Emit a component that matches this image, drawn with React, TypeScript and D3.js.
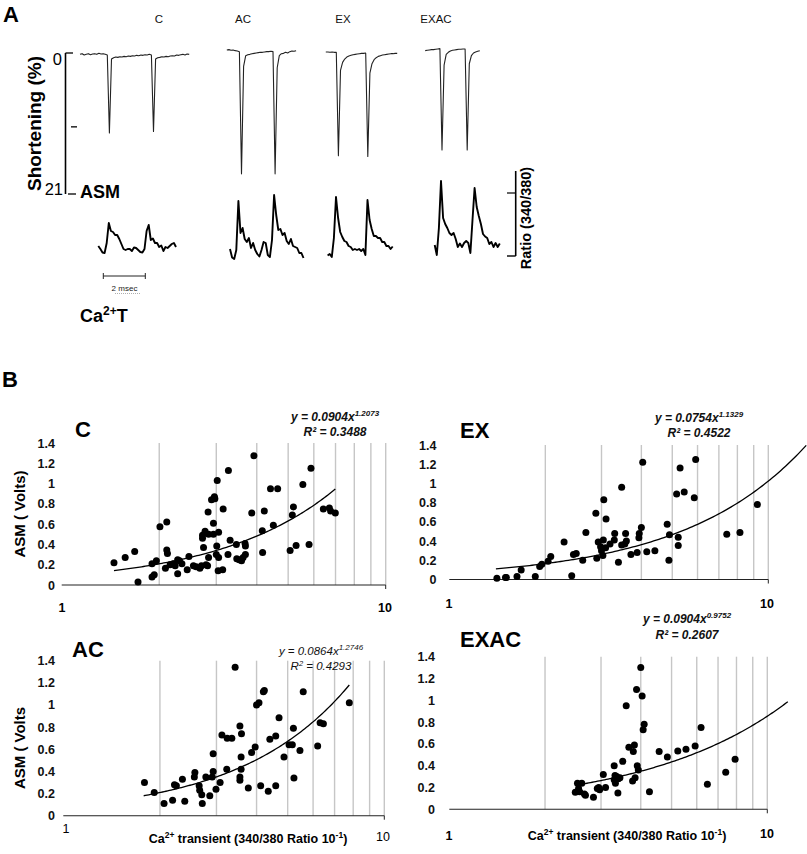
import React from 'react';
import * as d3 from 'd3';

const FONT = "'Liberation Sans', Arial, Helvetica, sans-serif";

// ---------- Panel A : representative traces (sampled every 0.1 ms) ----------
const SAMPLE_MS = 0.1;
const groupLabels = ['C', 'AC', 'EX', 'EXAC'];
// cell shortening (%)
const shortC = [0.2,0.1,0.3,0.2,0.1,0.25,0.15,0.1,0.2,0.05,0.15,0.1,0.2,0.3,11.9,0.9,0.7,0.6,0.65,0.55,0.6,0.5,0.55,0.45,0.5,0.4,0.45,0.35,0.4,0.3,0.35,0.25,0.3,0.2,0.3,11.7,0.9,0.7,0.65,0.55,0.6,0.5,0.55,0.45,0.4,0.45,0.3,0.35,0.25,0.2,0.3,0.15,0.2];
const shortAC = [-0.45,-0.5,-0.4,-0.45,-0.35,-0.3,-0.2,18.0,2.0,0.4,0.25,0.2,0.1,0.05,0.0,-0.05,-0.1,-0.1,-0.15,-0.2,-0.2,-0.25,-0.2,18.0,2.2,0.4,0.1,0.05,-0.1,0.0,-0.2,-0.3,-0.25,-0.35];
const shortEX = [-0.15,-0.15,-0.1,-0.15,-0.1,-0.1,15.3,2.6,1.4,0.9,0.6,0.45,0.35,0.25,0.2,0.15,0.1,0.05,0.05,0.0,15.4,3.0,1.6,1.0,0.7,0.5,0.4,0.3,0.25,0.2,0.15,0.1,0.1,0.05,0.05];
const shortEXAC = [-0.35,-0.4,-0.45,-0.5,-0.5,-0.55,-0.6,-0.65,14.45,1.8,0.2,-0.1,-0.3,-0.4,-0.45,-0.5,-0.55,-0.55,-0.6,-0.6,14.45,1.6,0.4,0.0,-0.15,-0.25,-0.35];
// Ca2+ transient (fura-2 ratio, arbitrary units)
const caC = [10,7,3.5,3,13,33,25,24,21,21,17,12,7,6,7,7,5,8.5,8,6,4,3.5,7,25,31,16,17.5,13,13,9,10.5,5,9,8,10,12,13,9];
const caAC = [7,-1.5,-3,6,55,23,28,17,14,18,8,13,6,2,-0.5,6,14,13,1,-1,16,61,41,26,27,21,23,15,12,17,10,9,8,3,3,-2];
const caEX = [0.5,2,-1,18,59,38,24,19,15,14,10,9,6,7,6,7,5,7,1,56,36,27,20,20,18,18,14,14,10,10,7,9.5];
const caEXAC = [11,1,28,75,38,32,28,23,21,23,17,9,12.5,9,13,15,13,3,36,68,49,40,32,22,19.5,18,12,14,9,13,9,12.5];

// ---------- Panel B : ASM vs Ca2+ transient ----------
const cCa = [1.45,1.57,1.68,1.72,1.90,1.93,1.90,1.96,2.01,2.11,2.11,2.12,2.09,2.16,2.21,2.28,2.28,2.35,2.31,2.44,2.47,2.55,2.60,2.67,2.70,2.79,2.74,2.72,2.72,2.77,2.84,2.83,2.90,2.96,2.97,2.94,2.94,3.05,3.01,3.00,3.05,2.84,3.04,3.14,3.02,3.15,3.27,3.31,3.26,3.47,3.46,3.53,3.59,3.63,3.69,3.69,3.68,3.86,3.92,4.17,4.16,4.22,4.41,4.64,4.50,5.07,5.29,5.15,5.19,5.55,5.80,5.88,6.42,6.70,6.76,6.99,2.82,2.24];
const cAsm = [0.22,0.27,0.33,0.03,0.08,0.10,0.21,0.24,0.575,0.62,0.345,0.31,0.165,0.20,0.21,0.25,0.11,0.21,0.24,0.15,0.28,0.19,0.18,0.165,0.19,0.20,0.37,0.46,0.49,0.53,0.50,0.72,0.84,0.87,0.85,0.61,0.50,0.52,0.385,0.30,0.27,0.27,0.14,0.15,1.03,0.75,1.13,0.44,0.30,0.26,0.40,0.25,0.24,0.27,0.30,0.385,0.41,0.71,1.275,0.32,0.535,0.73,0.95,0.95,0.59,0.34,0.39,0.69,0.77,0.99,0.40,1.15,0.75,0.76,0.73,0.71,0.19,0.19];

const exCa = [1.41,1.50,1.51,1.63,1.68,1.86,1.92,1.95,2.04,2.08,2.29,2.42,2.45,2.50,2.62,2.68,2.88,2.90,2.93,2.98,3.00,3.03,3.04,3.05,3.10,3.09,3.19,3.29,3.30,3.39,3.47,3.47,3.57,3.59,3.55,3.71,3.88,3.93,3.94,4.00,4.04,4.16,4.41,4.82,4.88,4.90,5.22,5.22,5.16,5.29,5.45,5.86,5.92,7.41,8.15,9.24];
const exAsm = [0.014,0.02,0.02,0.03,0.10,0.03,0.136,0.16,0.19,0.24,0.39,0.04,0.26,0.27,0.20,0.49,0.69,0.22,0.39,0.34,0.30,0.25,0.41,0.83,0.63,0.33,0.37,0.41,0.48,0.18,0.36,0.96,0.48,0.40,0.37,0.26,0.28,0.435,0.48,0.54,1.22,0.29,0.30,0.575,0.20,0.467,0.44,0.355,0.89,1.16,0.91,0.85,1.25,0.47,0.49,0.78];

const acCa = [1.79,1.92,2.06,2.19,2.22,2.25,2.35,2.39,2.56,2.57,2.65,2.66,2.70,2.71,2.78,2.86,2.91,2.93,2.93,2.99,3.08,3.12,3.23,3.24,3.35,3.43,3.55,3.59,3.58,3.58,3.55,3.55,3.77,3.86,3.96,4.00,4.07,4.12,4.20,4.23,4.35,4.40,4.59,4.59,4.70,4.87,5.05,5.17,5.23,5.21,5.46,5.59,6.20,6.31,6.46,7.78];
const acAsm = [0.30,0.21,0.11,0.14,0.28,0.27,0.33,0.13,0.35,0.39,0.27,0.23,0.19,0.11,0.35,0.18,0.35,0.40,0.56,0.24,0.30,0.73,0.42,0.70,0.70,1.34,0.81,0.74,0.53,0.42,0.35,0.32,0.25,0.57,0.62,1.00,1.02,0.27,1.12,1.13,0.22,0.69,0.27,0.72,0.885,0.53,0.64,0.64,0.34,0.79,0.59,1.12,0.63,0.84,0.83,1.02];

const exacCa = [2.49,2.53,2.55,2.61,2.57,2.66,2.68,2.84,2.92,2.97,2.95,3.05,3.10,3.30,3.32,3.30,3.33,3.39,3.40,3.44,3.36,3.51,3.60,3.67,3.77,3.82,3.79,3.84,3.88,3.90,3.93,4.00,4.04,4.07,4.10,4.26,4.57,4.85,5.23,5.55,5.93,6.19,6.48,7.40,7.92];
const exacAsm = [0.156,0.24,0.19,0.24,0.16,0.14,0.13,0.11,0.19,0.18,0.20,0.32,0.20,0.40,0.31,0.27,0.24,0.15,0.28,0.29,0.30,0.44,0.95,0.57,0.26,0.59,0.53,0.29,1.10,0.40,0.36,1.30,1.04,0.73,0.78,0.16,0.53,0.48,0.535,0.55,0.58,0.75,0.23,0.34,0.46];

// power-law trendlines y = a x^b
const fitA = [0.0904, 0.0754, 0.0864, 0.0904];
const fitB = [1.2073, 1.1329, 1.2746, 0.9752];
const fitR2 = ['0.3488', '0.4522', '0.4293', '0.2607'];
const fitRange = [[1.45, 6.99], [1.40, 13.15], [1.78, 7.78], [2.51, 11.6]];
const yTicks = [0, 0.2, 0.4, 0.6, 0.8, 1, 1.2, 1.4];
const gridValues = [2, 3, 4, 5, 6, 7, 8, 9, 10];

// ---------- layout ----------
const shortY = d3.scaleLinear().domain([0, 21]).range([53, 194]);
const ratioY = d3.scaleLinear().domain([0, 85]).range([256, 171]);
const msToPx = 21;

const traceLayout = [
  { sStart: 80, cStart: 98.3, labelX: 159 },
  { sStart: 226.8, cStart: 230, labelX: 243 },
  { sStart: 325.8, cStart: 327.6, labelX: 343 },
  { sStart: 425.2, cStart: 434.7, labelX: 436 },
];
const shortSeries = [shortC, shortAC, shortEX, shortEXAC];
const caSeries = [caC, caAC, caEX, caEXAC];

type PanelCfg = {
  name: string; xs: number[]; ys: number[]; gi: number;
  x0: number; x1: number; y0: number; yTop: number;
  labelX: number; nameX: number; nameY: number;
  eqX: number; eqY: number; rY: number; eqBold: boolean;
  tick1: [number, number]; tick10: [number, number]; tickBold: boolean;
  yTitle?: string; yTitleY?: number; xTitle?: boolean; xTitleX?: number; xTitleY?: number;
};

const panels: PanelCfg[] = [
  { name: 'C', xs: cCa, ys: cAsm, gi: 0, x0: 61.7, x1: 385.7, y0: 585, yTop: 443, labelX: 55, nameX: 75, nameY: 437,
    eqX: 335, eqY: 421, rY: 436, eqBold: true, tick1: [62, 612], tick10: [385, 612], tickBold: true,
    yTitle: 'ASM ( Volts)', yTitleY: 514 },
  { name: 'EX', xs: exCa, ys: exAsm, gi: 1, x0: 449.3, x1: 768.3, y0: 579.5, yTop: 445, labelX: 436.5, nameX: 460, nameY: 438,
    eqX: 699, eqY: 421.5, rY: 436.5, eqBold: true, tick1: [449, 608], tick10: [767, 608], tickBold: true },
  { name: 'AC', xs: acCa, ys: acAsm, gi: 2, x0: 63.3, x1: 384.3, y0: 815.7, yTop: 660.7, labelX: 55, nameX: 72, nameY: 657,
    eqX: 321, eqY: 655, rY: 670, eqBold: false, tick1: [66, 833], tick10: [383, 841], tickBold: false,
    yTitle: 'ASM ( Volts', yTitleY: 748, xTitle: true, xTitleX: 248, xTitleY: 843 },
  { name: 'EXAC', xs: exacCa, ys: exacAsm, gi: 3, x0: 449.3, x1: 767.3, y0: 809.3, yTop: 656.7, labelX: 435, nameX: 460, nameY: 647,
    eqX: 687, eqY: 623, rY: 639, eqBold: true, tick1: [449, 840], tick10: [767, 838], tickBold: true,
    xTitle: true, xTitleX: 627, xTitleY: 840 },
];

function Scatter({ p }: { p: PanelCfg }) {
  const x = d3.scaleLog().domain([1, 10]).range([p.x0, p.x1]);
  const y = d3.scaleLinear().domain([0, 1.4]).range([p.y0, p.yTop]);
  const a = fitA[p.gi], b = fitB[p.gi];
  const [fMin, fMax] = fitRange[p.gi];
  const fitXs = d3.range(0, 121).map(i => fMin * Math.pow(fMax / fMin, i / 120));
  const line = d3.line<number>().x(d => x(d)).y(d => y(a * Math.pow(d, b)));
  const eqWeight = p.eqBold ? 'bold' : 'normal';
  const eqSize = p.eqBold ? 12 : 11.5;
  return (
    <g fontFamily={FONT}>
      {gridValues.map(g => (
        <line key={g} x1={x(g)} x2={x(g)} y1={y(1.4)} y2={y(0)} stroke="#c6c6c6" strokeWidth={1.4} />
      ))}
      <line x1={x(1)} x2={x(10)} y1={y(0)} y2={y(0)} stroke="#222" strokeWidth={1.1} />
      <line x1={x(10)} x2={x(10)} y1={y(0)} y2={y(0) + 4} stroke="#222" strokeWidth={1} />
      {yTicks.map(t => (
        <text key={t} x={p.labelX} y={y(t)} dy="0.36em" textAnchor="end" fontSize={12.5} fontWeight="bold" fill="#111">
          {String(+t.toFixed(1))}
        </text>
      ))}
      {p.xs.map((v, i) => (
        <circle key={i} cx={x(v)} cy={y(p.ys[i])} r={3.5} fill="#000" />
      ))}
      <path d={line(fitXs) || ''} fill="none" stroke="#000" strokeWidth={1.3} />
      <text x={p.nameX} y={p.nameY} fontSize={22} fontWeight="bold" fill="#000">{p.name}</text>
      <text x={p.eqX} y={p.eqY} textAnchor="middle" fontSize={eqSize} fontStyle="italic" fontWeight={eqWeight} fill="#111">
        <tspan>{`y = ${a.toFixed(4)}x`}</tspan>
        <tspan dy={-5} fontSize={8}>{b.toFixed(4)}</tspan>
      </text>
      {p.eqBold ? (
        <text x={p.eqX} y={p.rY} textAnchor="middle" fontSize={12} fontStyle="italic" fontWeight="bold" fill="#111">
          {`R² = ${fitR2[p.gi]}`}
        </text>
      ) : (
        <text x={p.eqX} y={p.rY} textAnchor="middle" fontSize={eqSize} fontStyle="italic" fill="#111">
          <tspan>R</tspan><tspan dy={-4} fontSize={7.5}>2</tspan><tspan dy={4}>{` = ${fitR2[p.gi]}`}</tspan>
        </text>
      )}
      <text x={p.tick1[0]} y={p.tick1[1]} textAnchor="middle" fontSize={12.5} fontWeight={p.tickBold ? 'bold' : 'normal'}>1</text>
      <text x={p.tick10[0]} y={p.tick10[1]} textAnchor="middle" fontSize={12.5} fontWeight={p.tickBold ? 'bold' : 'normal'}>10</text>
      {p.yTitle && (
        <text transform={`translate(25,${p.yTitleY}) rotate(-90)`} textAnchor="middle" fontSize={15} fontWeight="bold">{p.yTitle}</text>
      )}
      {p.xTitle && (
        <text x={p.xTitleX} y={p.xTitleY} textAnchor="middle" fontSize={12.5} fontWeight="bold">
          <tspan>Ca</tspan><tspan dy={-5} fontSize={8.5}>2+</tspan>
          <tspan dy={5}> transient (340/380 Ratio 10</tspan><tspan dy={-5} fontSize={8.5}>-1</tspan><tspan dy={5}>)</tspan>
        </text>
      )}
    </g>
  );
}

function Traces() {
  return (
    <g fontFamily={FONT}>
      {traceLayout.map((L, gi) => {
        const sx = d3.scaleLinear().domain([0, 1]).range([L.sStart, L.sStart + msToPx]);
        const cx = d3.scaleLinear().domain([0, 1]).range([L.cStart, L.cStart + msToPx]);
        const sLine = d3.line<number>().x((_, i) => sx(i * SAMPLE_MS)).y(d => shortY(d));
        const cLine = d3.line<number>().x((_, i) => cx(i * SAMPLE_MS)).y(d => ratioY(d));
        return (
          <g key={gi}>
            <text x={L.labelX} y={23} textAnchor="middle" fontSize={11.5} fill="#111">{groupLabels[gi]}</text>
            <path d={sLine(shortSeries[gi]) || ''} fill="none" stroke="#222" strokeWidth={1.1} strokeLinejoin="round" />
            <path d={cLine(caSeries[gi]) || ''} fill="none" stroke="#000" strokeWidth={1.9} strokeLinejoin="round" />
          </g>
        );
      })}
      {/* shortening scale bar */}
      <line x1={65.5} x2={65.5} y1={shortY(0)} y2={shortY(21)} stroke="#000" strokeWidth={1.6} />
      <line x1={65.5} x2={73} y1={shortY(0)} y2={shortY(0)} stroke="#000" strokeWidth={1.3} />
      <line x1={71} x2={77} y1={shortY(11)} y2={shortY(11)} stroke="#000" strokeWidth={1.3} />
      <line x1={68} x2={76} y1={shortY(21)} y2={shortY(21)} stroke="#000" strokeWidth={1.3} />
      <text x={62} y={65} textAnchor="end" fontSize={16.5}>0</text>
      <text x={63} y={195} textAnchor="end" fontSize={16.5}>21</text>
      <text transform="translate(41,123.5) rotate(-90)" textAnchor="middle" fontSize={19} fontWeight="bold">Shortening (%)</text>
      <text x={80} y={198} fontSize={18} fontWeight="bold">ASM</text>
      {/* ratio scale bar */}
      <line x1={515.7} x2={515.7} y1={ratioY(85)} y2={ratioY(0)} stroke="#000" strokeWidth={1.6} />
      <line x1={507} x2={515.7} y1={ratioY(63)} y2={ratioY(63)} stroke="#000" strokeWidth={1.2} />
      <line x1={507} x2={515.7} y1={ratioY(0)} y2={ratioY(0)} stroke="#000" strokeWidth={1.4} />
      <text transform="translate(531,218) rotate(-90)" textAnchor="middle" fontSize={14.5} fontWeight="bold">Ratio (340/380)</text>
      {/* time scale bar */}
      <line x1={103.3} x2={103.3 + 2 * msToPx} y1={276} y2={276} stroke="#222" strokeWidth={1} />
      <line x1={103.3} x2={103.3} y1={273} y2={279} stroke="#222" strokeWidth={1} />
      <line x1={103.3 + 2 * msToPx} x2={103.3 + 2 * msToPx} y1={273} y2={279} stroke="#222" strokeWidth={1} />
      <text x={124.5} y={291} textAnchor="middle" fontSize={8} fill="#222">2 msec</text>
      <line x1={115} x2={140} y1={293.5} y2={293.5} stroke="#999" strokeWidth={0.8} strokeDasharray="1,1" />
      <text x={80} y={322} fontSize={18} fontWeight="bold">
        <tspan>Ca</tspan><tspan dy={-7} fontSize={12}>2+</tspan><tspan dy={7}>T</tspan>
      </text>
    </g>
  );
}

export default function App() {
  return (
    <svg width={807} height={854} viewBox="0 0 807 854"
      style={{ position: 'absolute', left: 0, top: 0, background: '#fff' }}>
      <rect width={807} height={854} fill="#fff" />
      <text x={3} y={22} fontFamily={FONT} fontSize={22} fontWeight="bold">A</text>
      <text x={2} y={387} fontFamily={FONT} fontSize={22} fontWeight="bold">B</text>
      <Traces />
      {panels.map(p => <Scatter key={p.name} p={p} />)}
    </svg>
  );
}
